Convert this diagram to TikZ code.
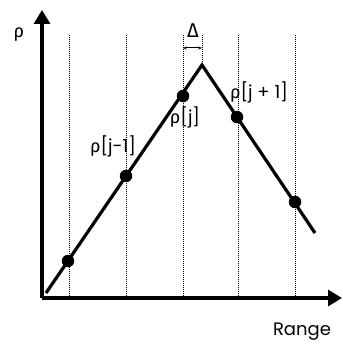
\documentclass[tikz,border=0pt]{standalone}
\usepackage{fontspec}
\setmainfont{Poppins}
\newfontfamily\greekfont{Fira Sans}
\usepackage{tikz}
\usetikzlibrary{arrows.meta, positioning, calc}

\newcommand{\rh}{{\greekfont ρ}}

\tikzset{
    grid line/.style={densely dotted, line width=1pt},
    sample/.style={circle, fill=black, inner sep=0pt, minimum size=12.5pt},
    lbl/.style={font=\fontsize{18}{20}\selectfont, inner sep=1pt}
}

\begin{document}
\begin{tikzpicture}[x=1pt, y=-1pt, line width=3.2pt]
    \useasboundingbox (0,0) rectangle (342,344);

    % Sample grid
    \foreach \gx in {69,126,183,238,295}
        \draw[grid line] (\gx,35) -- (\gx,298);

    % Axes
    \coordinate (origin) at (42,298);
    \draw[-{Triangle[length=14pt,width=16pt]}] (origin) -- (42,10) coordinate (ytip);
    \draw[-{Triangle[length=14pt,width=16pt]}] (origin) -- (342,298) coordinate (xtip);
    \node[lbl, anchor=center] (ylab) at (19,35) {\rh};
    \node[lbl, anchor=center] (xlab) at (302,332) {Range};

    % Profile
    \coordinate (start) at (46,293);
    \coordinate (peak) at (202,65);
    \coordinate (stop) at (315,233);
    \draw (start) -- (peak) -- (stop);
    \draw[grid line] (202,35) -- (peak);

    % Samples
    \node[sample] (p1) at (68,261) {};
    \node[sample] (p2) at (126,176) {};
    \node[sample] (p3) at (183,96) {};
    \node[sample] (p4) at (237,117) {};
    \node[sample] (p5) at (295,202) {};

    \node[lbl] (l2) at (113,146) {\rh[j-1]};
    \node[lbl] (l3) at (185,117) {\rh[j]};
    \node[lbl] (l4) at (259,92) {\rh[j + 1]};

    % Offset
    \coordinate (da) at (183,48);
    \coordinate (db) at (202,48);
    \draw[{Stealth[length=4pt]}-{Stealth[length=4pt]}, line width=1pt] (da) -- (db);
    \node[lbl, font=\fontsize{20}{22}\selectfont] (delta) at (193,31) {{\greekfont Δ}};
\end{tikzpicture}
\end{document}
